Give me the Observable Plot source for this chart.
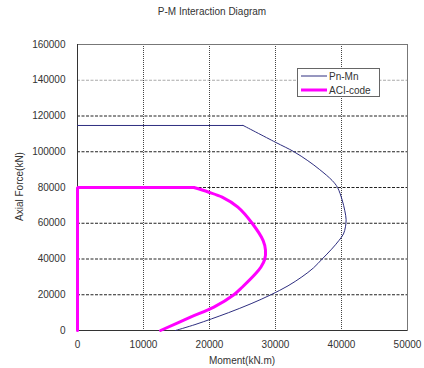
<!DOCTYPE html>
<html><head><meta charset="utf-8">
<script src="https://cdn.jsdelivr.net/npm/d3@7"></script>
<script src="https://cdn.jsdelivr.net/npm/@observablehq/plot@0.6"></script>
<style>
body{margin:0;background:#fff;font-family:"Liberation Sans",Arial,sans-serif;}
#wrap{position:relative;width:424px;height:368px;overflow:hidden;}
#title{position:absolute;left:0;top:6px;width:424px;text-align:center;font-size:10px;color:#333;}
#xlabel{position:absolute;left:77px;width:330px;top:355px;text-align:center;font-size:10px;color:#333;}
#ylabel{position:absolute;left:-81px;top:181px;width:200px;text-align:center;font-size:10px;color:#333;transform:rotate(-90deg);transform-origin:center center;}
#legend{position:absolute;left:297px;top:68px;width:81px;height:27px;border:1px solid #666;background:#fff;font-size:10px;color:#333;}
#legend .row{position:absolute;left:3px;height:12px;display:flex;align-items:center;}
#legend svg{margin-right:2px;}
</style></head><body>
<div id="wrap"><div id="title"></div><div id="xlabel"></div><div id="ylabel"></div><div id="legend"></div></div>
<script>
const titleText = "P-M Interaction Diagram";
const xLabel = "Moment(kN.m)";
const yLabel = "Axial Force(kN)";
const seriesNames = ["Pn-Mn", "ACI-code"];
const seriesColors = ["#2e2e80", "#ff00ff"];
const xTicks = [0, 10000, 20000, 30000, 40000, 50000];
const yTicks = [0, 20000, 40000, 60000, 80000, 100000, 120000, 140000, 160000];

// Pn-Mn: first two points are the flat cap (straight), the rest the curved envelope
const pnMnMoment = [0, 25100, 30000, 32800, 34900, 36700, 38590, 39400, 40100, 40500, 40700, 40600, 40300, 39600, 38500, 37070, 35750, 34000, 31900, 29300, 26300, 22900, 20300, 17800, 14850];
const pnMnAxial  = [114700, 114700, 105300, 100000, 95000, 90000, 83900, 80000, 73000, 67000, 62000, 58000, 54000, 50300, 45500, 40000, 35000, 30000, 25000, 20000, 15000, 10000, 6500, 3300, 0];

// ACI-code: first three points are the straight cap, the rest the curved envelope
const aciMoment = [0, 0, 17630, 19800, 21920, 24300, 26460, 28130, 28480, 28380, 27800, 26970, 24950, 23690, 20660, 17120, 12580];
const aciAxial  = [0, 80000, 80000, 77500, 74600, 69000, 60000, 50300, 45000, 40000, 35500, 31700, 24200, 20000, 13050, 7460, 0];

const pnMn = pnMnMoment.map((m, i) => ({m, p: pnMnAxial[i]}));
const aci = aciMoment.map((m, i) => ({m, p: aciAxial[i]}));

const fmt = d3.format("d");
const chart = Plot.plot({
  width: 424, height: 368,
  marginLeft: 77, marginRight: 17, marginTop: 44, marginBottom: 38,
  style: {fontFamily: "Liberation Sans, Arial, sans-serif", fontSize: "10px", color: "#333", background: "#fff"},
  x: {domain: [0, 50000], ticks: xTicks, tickFormat: fmt, label: null, tickSize: 0, tickPadding: 10},
  y: {domain: [0, 160000], ticks: yTicks, tickFormat: fmt, label: null, tickSize: 0, tickPadding: 12},
  marks: [
    Plot.ruleY(yTicks.filter(d => d > 0 && d < 160000), {stroke: d => d === 140000 ? "#aaa" : "#222", strokeDasharray: "3,1.5"}),
    Plot.ruleX(xTicks.filter(d => d > 0 && d < 50000), {stroke: "#444", strokeDasharray: "1,1"}),
    Plot.frame({stroke: "#777"}),
    Plot.ruleX([0], {stroke: "#333"}),
    Plot.ruleY([0], {stroke: "#333"}),
    Plot.line(pnMn.slice(0, 2), {x: "m", y: "p", stroke: seriesColors[0], strokeWidth: 1}),
    Plot.line(pnMn.slice(1), {x: "m", y: "p", stroke: seriesColors[0], strokeWidth: 1, curve: "catmull-rom"}),
    Plot.line(aci.slice(0, 3), {x: "m", y: "p", stroke: seriesColors[1], strokeWidth: 3, strokeLinejoin: "miter"}),
    Plot.line(aci.slice(2), {x: "m", y: "p", stroke: seriesColors[1], strokeWidth: 3, curve: "catmull-rom"})
  ]
});
document.getElementById("wrap").prepend(chart);
document.getElementById("title").textContent = titleText;
document.getElementById("xlabel").textContent = xLabel;
document.getElementById("ylabel").textContent = yLabel;
const legend = document.getElementById("legend");
seriesNames.forEach((name, i) => {
  const row = document.createElement("div");
  row.className = "row";
  row.style.top = (i === 0 ? 1 : 15) + "px";
  row.innerHTML = `<svg width="26" height="8"><line x1="0" x2="26" y1="4" y2="4" stroke="${seriesColors[i]}" stroke-width="${i === 0 ? 1 : 3}"/></svg><span>${name}</span>`;
  legend.appendChild(row);
});
</script>
</body></html>
